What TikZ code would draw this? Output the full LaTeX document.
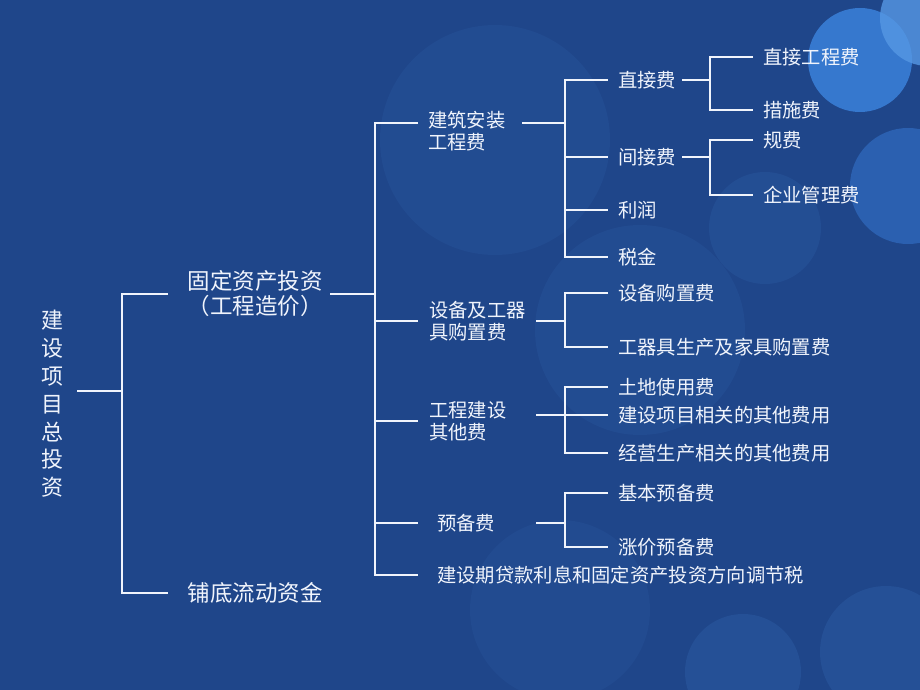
\documentclass[tikz,border=0pt]{standalone}
\usepackage{fontspec}
\newfontfamily\cjk{Noto Sans CJK SC}
\usetikzlibrary{calc}
\definecolor{bgblue}{RGB}{31,70,138}
\definecolor{haze}{RGB}{37,80,150}
\definecolor{mist}{RGB}{43,96,176}
\definecolor{glow}{RGB}{54,120,206}
\definecolor{flare}{RGB}{86,152,228}
\definecolor{inkwhite}{RGB}{240,244,252}
\tikzset{
	wire/.style={draw=inkwhite, line width=2.5pt},
	big/.style={text=inkwhite, inner sep=0pt, font=\cjk\fontsize{22.5}{25}\selectfont},
	small/.style={text=inkwhite, inner sep=0pt, anchor=west, align=left, font=\cjk\fontsize{19.3}{22.5}\selectfont}
}
\begin{document}
\begin{tikzpicture}[x=1pt,y=-1pt]
		\def \ja{ 122 };
		\def \ea{ 168 };
		\def \sb{ 330 };
		\def \jb{ 375 };
		\def \eb{ 418 };
		\def \sc{ 536 };
		\def \jc{ 565 };
		\def \ec{ 608 };
		\def \sd{ 682 };
		\def \jd{ 710 };
		\def \ed{ 753 };
		\useasboundingbox (0,0) rectangle (920,690);
		\clip (0,0) rectangle (920,690);
		\fill[bgblue] (0,0) rectangle (920,690);
		\fill[haze, opacity=0.6] (495,140) circle (115pt);
		\fill[haze, opacity=0.6] (640,330) circle (105pt);
		\fill[haze, opacity=0.5] (560,610) circle (90pt);
		\fill[haze, opacity=0.8] (765,228) circle (56pt);
		\fill[haze] (743,672) circle (58pt);
		\fill[haze] (886,652) circle (66pt);
		\fill[mist] (908,186) circle (58pt);
		\fill[glow] (860,60) circle (52pt);
		\fill[flare, opacity=0.8] (928,18) circle (48pt);
		\coordinate (ja) at (\ja,0);
		\coordinate (ea) at (\ea,0);
		\coordinate (sb) at (\sb,0);
		\coordinate (jb) at (\jb,0);
		\coordinate (eb) at (\eb,0);
		\coordinate (sc) at (\sc,0);
		\coordinate (sc1) at (522,0);
		\coordinate (jc) at (\jc,0);
		\coordinate (ec) at (\ec,0);
		\coordinate (sd) at (\sd,0);
		\coordinate (jd) at (\jd,0);
		\coordinate (ed) at (\ed,0);
		\coordinate (rj) at (\ja,391);
		\node[big, align=center, outer xsep=14pt, font=\cjk\fontsize{22}{27.8}\selectfont] (root) at (52,404) {建\\设\\项\\目\\总\\投\\资};
		\node[big, align=center] (fa) at (255,294) {固定资产投资\\（工程造价）};
		\node[big] (pd) at (255,593) {铺底流动资金};
		\node[small] (b1) at (428,131) {建筑安装\\工程费};
		\node[small] (b2) at (429,321) {设备及工器\\具购置费};
		\node[small] (b3) at (429,421) {工程建设\\其他费};
		\node[small] (b4) at (437,523) {预备费};
		\node[small] (b5) at (437,575) {建设期贷款利息和固定资产投资方向调节税};
		\node[small] (c1) at (618,80) {直接费};
		\node[small] (c2) at (618,157) {间接费};
		\node[small] (c3) at (618,210) {利润};
		\node[small] (c4) at (618,257) {税金};
		\node[small] (d1) at (618,293) {设备购置费};
		\node[small] (d2) at (618,347) {工器具生产及家具购置费};
		\node[small] (f1) at (618,387) {土地使用费};
		\node[small] (f2) at (618,415) {建设项目相关的其他费用};
		\node[small] (f3) at (618,453) {经营生产相关的其他费用};
		\node[small] (g1) at (618,493) {基本预备费};
		\node[small] (g2) at (618,547) {涨价预备费};
		\node[small] (h1) at (763,57) {直接工程费};
		\node[small] (h2) at (763,110) {措施费};
		\node[small] (h3) at (763,140) {规费};
		\node[small] (h4) at (763,195) {企业管理费};
		\coordinate (b1l) at ($(b1.west)+(0,-8)$);
		\draw[wire] (root.east |- rj) -- (rj);
		\draw[wire] (fa.west -| ea) -- (fa.west -| ja) -- (pd.west -| ja) -- (pd.west -| ea);
		\draw[wire] (fa.east -| sb) -- (fa.east -| jb);
		\draw[wire] (b1l -| eb) -- (b1l -| jb) -- (b5.west -| jb) -- (b5.west -| eb);
		\draw[wire] (b2.west -| jb) -- (b2.west -| eb);
		\draw[wire] (b3.west -| jb) -- (b3.west -| eb);
		\draw[wire] (b4.west -| jb) -- (b4.west -| eb);
		\draw[wire] (b1l -| sc1) -- (b1l -| jc);
		\draw[wire] (c1.west -| ec) -- (c1.west -| jc) -- (c4.west -| jc) -- (c4.west -| ec);
		\draw[wire] (c2.west -| jc) -- (c2.west -| ec);
		\draw[wire] (c3.west -| jc) -- (c3.west -| ec);
		\draw[wire] (b2.east -| sc) -- (b2.east -| jc);
		\draw[wire] (d1.west -| ec) -- (d1.west -| jc) -- (d2.west -| jc) -- (d2.west -| ec);
		\draw[wire] (f2.west -| sc) -- (f2.west -| ec);
		\draw[wire] (f1.west -| ec) -- (f1.west -| jc) -- (f3.west -| jc) -- (f3.west -| ec);
		\draw[wire] (b4.east -| sc) -- (b4.east -| jc);
		\draw[wire] (g1.west -| ec) -- (g1.west -| jc) -- (g2.west -| jc) -- (g2.west -| ec);
		\draw[wire] (c1.east -| sd) -- (c1.east -| jd);
		\draw[wire] (h1.west -| ed) -- (h1.west -| jd) -- (h2.west -| jd) -- (h2.west -| ed);
		\draw[wire] (c2.east -| sd) -- (c2.east -| jd);
		\draw[wire] (h3.west -| ed) -- (h3.west -| jd) -- (h4.west -| jd) -- (h4.west -| ed);
	\end{tikzpicture}
\end{document}
